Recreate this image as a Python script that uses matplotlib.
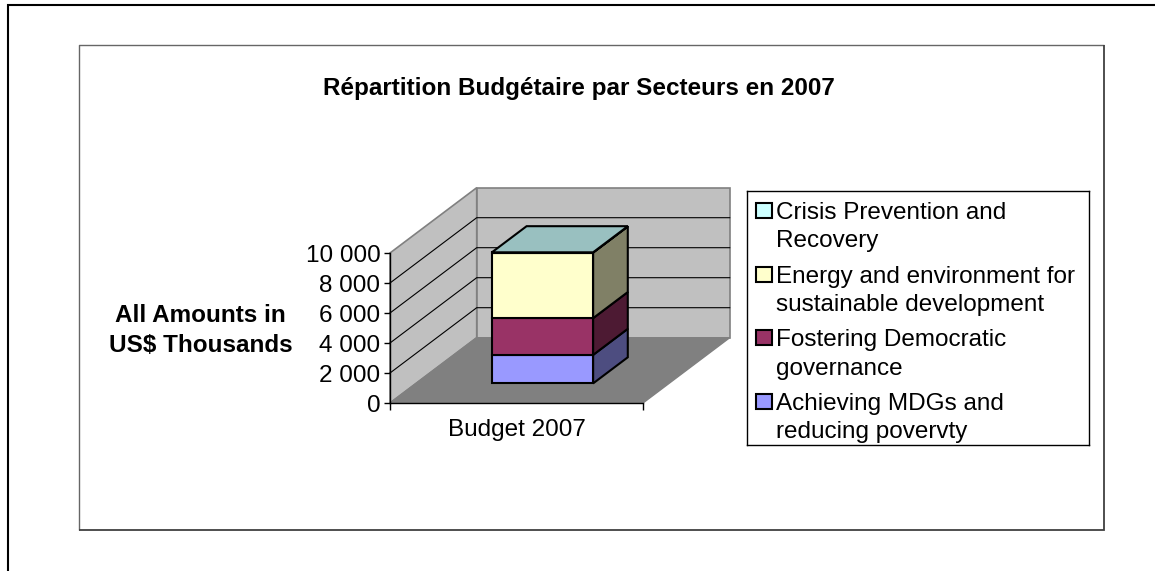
import matplotlib
matplotlib.use("Agg")
import matplotlib.pyplot as plt
from matplotlib.patches import Polygon, Rectangle

plt.rcParams["font.family"] = ["Liberation Sans", "DejaVu Sans"]

# data
categories = ["Budget 2007"]
series_names = [
    "Achieving MDGs and\nreducing povervty",
    "Fostering Democratic\ngovernance",
    "Energy and environment for\nsustainable development",
    "Crisis Prevention and\nRecovery",
]
series_values = [1900, 2450, 4370, 20]
series_colors = ["#9999FF", "#993366", "#FFFFCC", "#CCFFFF"]
side_colors = ["#4D4D80", "#4D1A33", "#808066", "#668080"]
top_color = "#99C0C0"
y_ticks = [0, 2000, 4000, 6000, 8000, 10000]
y_labels = ["0", "2 000", "4 000", "6 000", "8 000", "10 000"]

W, H = 1155, 571
YMAX = 10000
FS = 17.5

# depth shift of the 3D box, in axis units
DX = 86.7 / 253
DY = 65.3 / 150 * YMAX


def proj(x, v, d):
    return (x + d * DX, v + d * DY)


def px_rect(x0, y0, x1, y1):
    # top-left pixel box -> figure fraction
    return [x0 / W, 1 - y1 / H, (x1 - x0) / W, (y1 - y0) / H]


fig = plt.figure(figsize=(W / 100, H / 100), dpi=100, facecolor="white")

# page and chart frames
bg = fig.add_axes([0, 0, 1, 1])
bg.set_xlim(0, W)
bg.set_ylim(H, 0)
bg.axis("off")
bg.plot([8, 8, W], [H, 4.5, 4.5], color="black", lw=1.5, solid_joinstyle="miter")
bg.plot([78.5, 78.5, 1104], [530, 45, 45], color="#666666", lw=1.0, solid_capstyle="butt")
bg.plot([1104, 1104, 78.5], [45, 530, 530], color="#404040", lw=1.3, solid_capstyle="butt",
        solid_joinstyle="miter")

ax = fig.add_axes(px_rect(390, 253, 643, 403))
ax.set_xlim(0, 1)
ax.set_ylim(0, YMAX)
ax.patch.set_visible(False)
for s in ["top", "right"]:
    ax.spines[s].set_visible(False)
ax.spines["left"].set_linewidth(1.0)
ax.spines["bottom"].set_linewidth(1.0)
ax.spines["left"].set_zorder(6)
ax.spines["bottom"].set_zorder(6)


def face(points, fc, ec="black", lw=1.5, z=3):
    ax.add_patch(Polygon([proj(*p) for p in points], closed=True, fc=fc, ec=ec,
                         lw=lw, zorder=z, clip_on=False, joinstyle="miter"))


# walls and floor
wall_ec = "#808080"
face([(0, 0, 0), (0, YMAX, 0), (0, YMAX, 1), (0, 0, 1)], "#C0C0C0", wall_ec, 1.2, 1)
face([(0, 0, 1), (0, YMAX, 1), (1, YMAX, 1), (1, 0, 1)], "#C0C0C0", wall_ec, 1.2, 1)
face([(0, 0, 0), (0, 0, 1), (1, 0, 1), (1, 0, 0)], "#808080", wall_ec, 1.0, 1)

# gridlines
for t in y_ticks[1:-1]:
    xs, ys = zip(proj(0, t, 0), proj(0, t, 1), proj(1, t, 1))
    ax.plot(xs, ys, color="black", lw=0.8, zorder=2, clip_on=False)

# stacked bar
x0, x1 = 0.3, 0.7
d0, d1 = 0.3, 0.7
base = 0
for val, c, sc in zip(series_values, series_colors, side_colors):
    top = base + val
    face([(x1, base, d0), (x1, top, d0), (x1, top, d1), (x1, base, d1)], sc)
    face([(x0, base, d0), (x0, top, d0), (x1, top, d0), (x1, base, d0)], c)
    base = top
face([(x0, base, d0), (x0, base, d1), (x1, base, d1), (x1, base, d0)], top_color, z=4)

ax.set_xticks([0, 1])
ax.set_xticklabels(["", ""])
ax.set_yticks(y_ticks)
ax.set_yticklabels(y_labels, fontsize=FS)
ax.tick_params(axis="y", length=4, width=1, pad=3, direction="out")
ax.tick_params(axis="x", length=5, width=1, direction="out")
ax.text(0.5, -0.105, categories[0], transform=ax.transAxes, ha="center", va="top", fontsize=FS)

# title and axis title
bg.text(578.5, 89, "Répartition Budgétaire par Secteurs en 2007", ha="center", va="center",
        fontsize=FS, fontweight="bold")
bg.text(200.5, 330.5, "All Amounts in\nUS$ Thousands", ha="center", va="center",
        fontsize=FS, fontweight="bold", linespacing=1.39)

# legend box
leg = fig.add_axes(px_rect(747, 191, 1089, 445))
leg.set_xlim(747, 1089)
leg.set_ylim(445, 191)
leg.set_xticks([])
leg.set_yticks([])
for s in leg.spines.values():
    s.set_linewidth(1.0)

legend_y = [210.5, 274.5, 338, 401.5]
for name, c, ly in zip(series_names[::-1], series_colors[::-1], legend_y):
    leg.add_patch(Rectangle((756, ly - 7.5), 16, 15, fc=c, ec="black", lw=1.5))
    leg.text(776, ly - 8.5, name, ha="left", va="top", fontsize=FS, linespacing=1.37)

fig.savefig("out.png", dpi=100)
